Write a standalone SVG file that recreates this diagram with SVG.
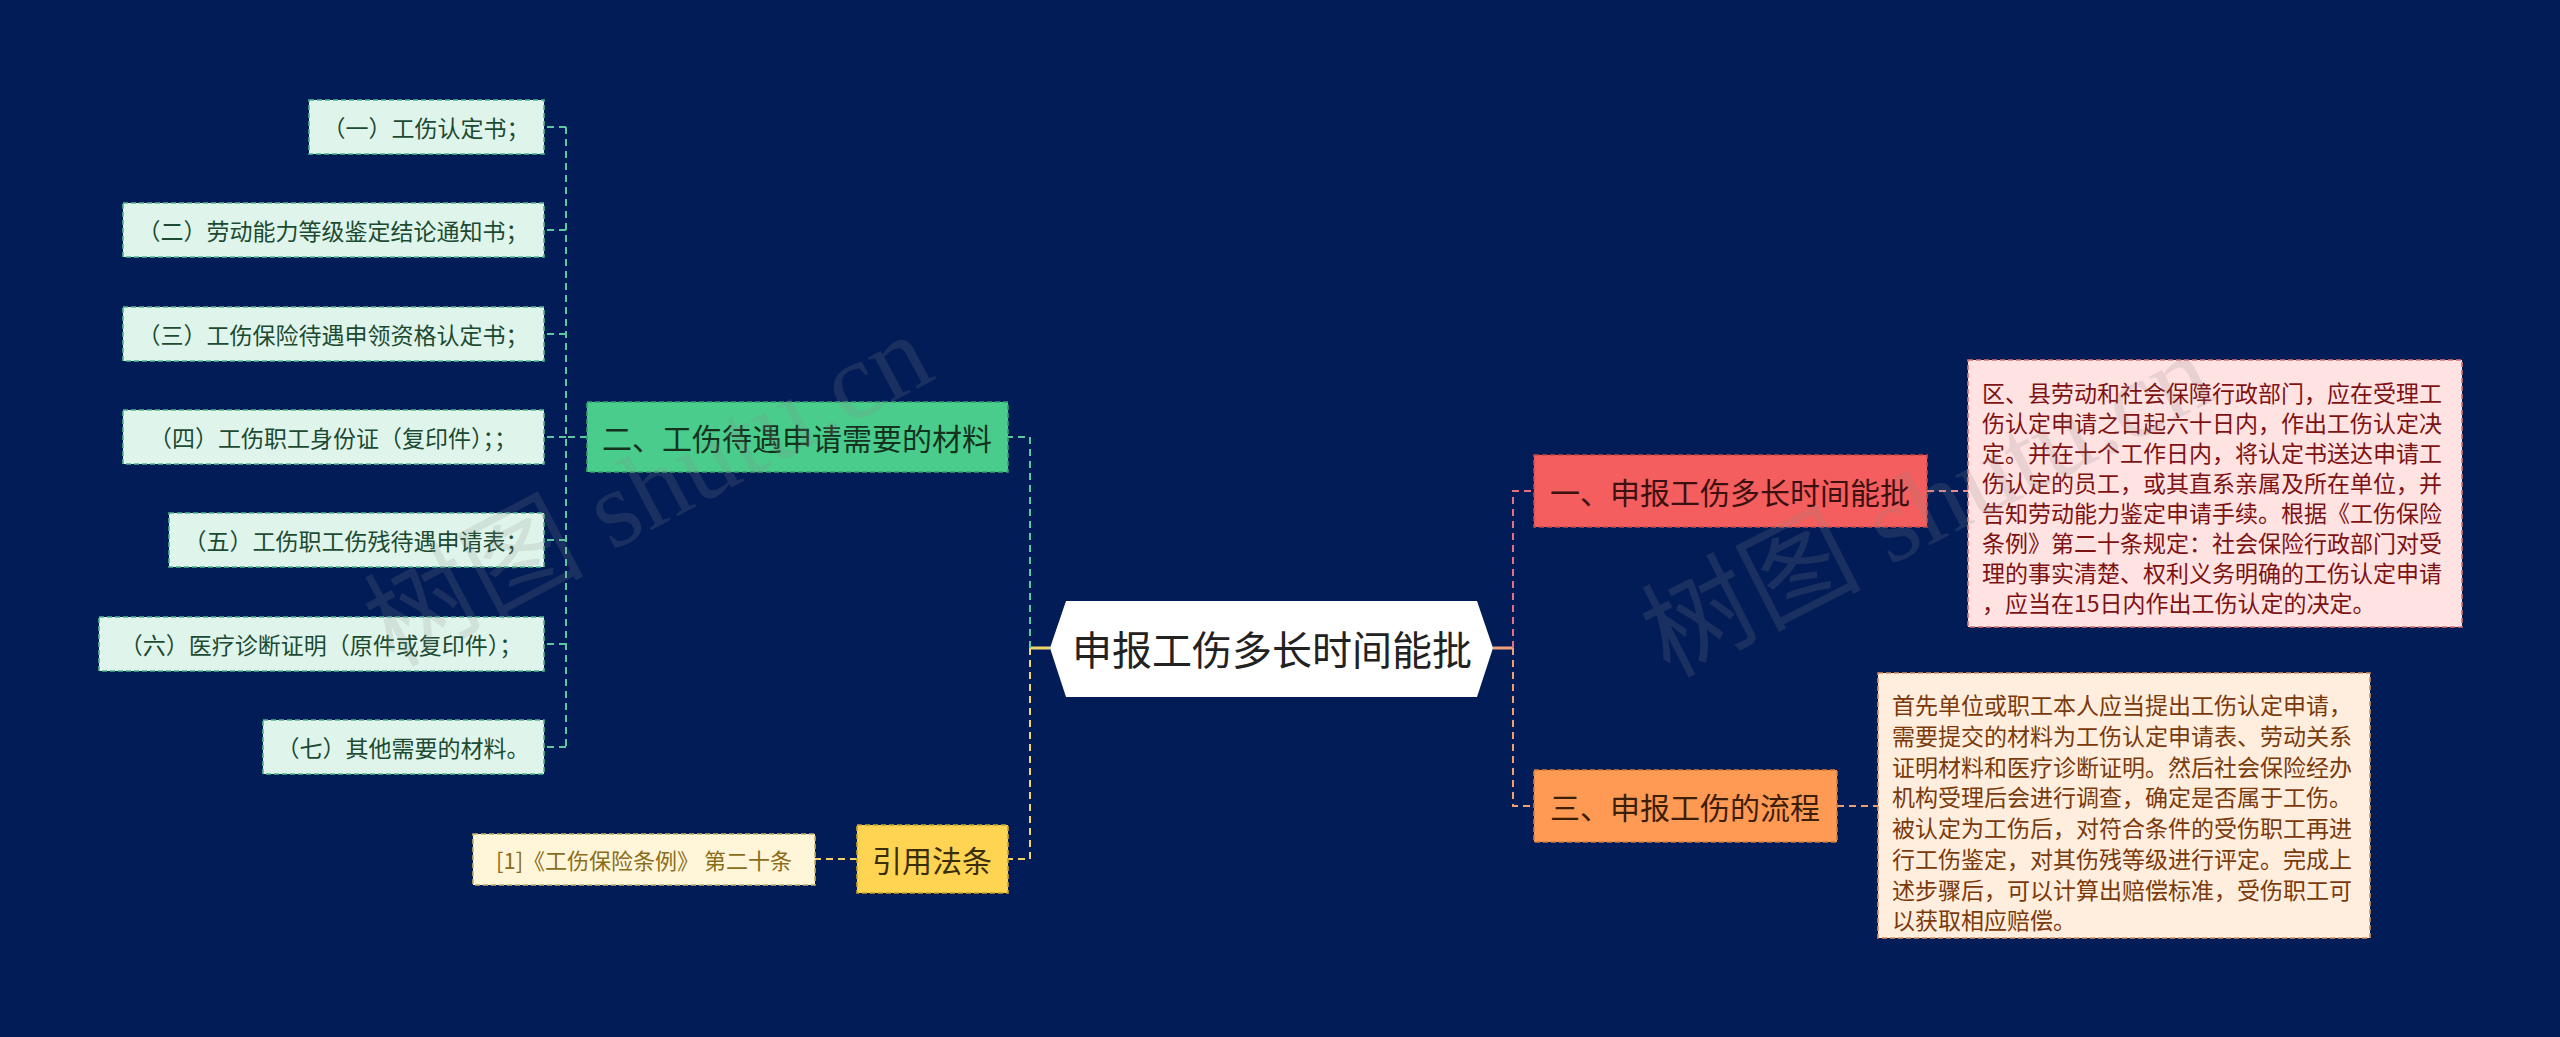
<svg xmlns="http://www.w3.org/2000/svg" width="2560" height="1037" viewBox="0 0 2560 1037">
<style>
text{font-family:"Noto Sans CJK SC","Noto Sans",sans-serif}
.c{text-anchor:middle;dominant-baseline:central}
.l{text-anchor:start;dominant-baseline:central}
.conn{fill:none;stroke-width:2;stroke-dasharray:7 5}
.solid{fill:none;stroke-width:3}
.box{stroke-width:1.6;stroke-dasharray:5 3}
.child rect{fill:#DFF5EB;stroke:#4DB88E}
.child text{font-size:23px;fill:#1C4A32}
.wm{font-family:"Liberation Serif","Noto Sans CJK SC",serif;font-size:110px;fill:#8a8a8a;opacity:0.18;text-anchor:middle;dominant-baseline:central}
</style>
<rect x="0" y="0" width="2560" height="1037" fill="#021C57"/>

<g id="connectors">
  <path class="solid" d="M1493 648 H1513" stroke="#F2A07A"/>
  <path class="conn" d="M1513 648 V491 H1534" stroke="#E5707F"/>
  <path class="conn" d="M1513 648 V806 H1534" stroke="#F2A070"/>
  <path class="conn" d="M1927 491 H1968" stroke="#E88A8A"/>
  <path class="conn" d="M1837 806 H1878" stroke="#E8A070"/>
  <path class="solid" d="M1050 648 H1030" stroke="#F2D56A"/>
  <path class="conn" d="M1030 648 V437 H1008" stroke="#5BC8A0"/>
  <path class="conn" d="M1030 648 V859 H1008" stroke="#F2D56A"/>
  <path class="conn" d="M857 859 H815" stroke="#F2D56A"/>
  <path class="conn" d="M587 437 H566" stroke="#5BC8A0"/>
  <path class="conn" d="M566 127 V747" stroke="#5BC8A0"/>
  <path class="conn" d="M566 127 H545 M566 230 H545 M566 334 H545 M566 437 H545 M566 540 H545 M566 644 H545 M566 747 H545" stroke="#5BC8A0"/>
</g>

<g id="root">
  <polygon points="1050,648 1066,601 1477,601 1493,648 1477,697 1066,697" fill="#FFFFFF"/>
  <text class="c" x="1272" y="648" font-size="40" fill="#222222">申报工伤多长时间能批</text>
</g>

<g id="branch1">
  <rect class="box" x="1534" y="455" width="393" height="72" fill="#F45E5E" stroke="#C94848"/>
  <text class="c" x="1730" y="491" font-size="30" fill="#3D1010">一、申报工伤多长时间能批</text>
</g>
<g id="detail1">
  <rect class="box" x="1968" y="360" width="494" height="267" fill="#FFE2E2" stroke="#D87070"/>
  <g font-size="23" fill="#7E1212">
    <text class="l" x="1982" y="392">区、县劳动和社会保障行政部门，应在受理工</text>
    <text class="l" x="1982" y="422">伤认定申请之日起六十日内，作出工伤认定决</text>
    <text class="l" x="1982" y="452">定。并在十个工作日内，将认定书送达申请工</text>
    <text class="l" x="1982" y="482">伤认定的员工，或其直系亲属及所在单位，并</text>
    <text class="l" x="1982" y="512">告知劳动能力鉴定申请手续。根据《工伤保险</text>
    <text class="l" x="1982" y="542">条例》第二十条规定：社会保险行政部门对受</text>
    <text class="l" x="1982" y="572">理的事实清楚、权利义务明确的工伤认定申请</text>
    <text class="l" x="1982" y="602">，应当在15日内作出工伤认定的决定。</text>
  </g>
</g>

<g id="branch3">
  <rect class="box" x="1534" y="770" width="303" height="72" fill="#FF9A55" stroke="#D47A3A"/>
  <text class="c" x="1685" y="806" font-size="30" fill="#3D1E08">三、申报工伤的流程</text>
</g>
<g id="detail3">
  <rect class="box" x="1878" y="673" width="492" height="265" fill="#FFEEDD" stroke="#D89060"/>
  <g font-size="23" fill="#7A3A0C">
    <text class="l" x="1892" y="704">首先单位或职工本人应当提出工伤认定申请，</text>
    <text class="l" x="1892" y="735">需要提交的材料为工伤认定申请表、劳动关系</text>
    <text class="l" x="1892" y="766">证明材料和医疗诊断证明。然后社会保险经办</text>
    <text class="l" x="1892" y="796">机构受理后会进行调查，确定是否属于工伤。</text>
    <text class="l" x="1892" y="827">被认定为工伤后，对符合条件的受伤职工再进</text>
    <text class="l" x="1892" y="858">行工伤鉴定，对其伤残等级进行评定。完成上</text>
    <text class="l" x="1892" y="889">述步骤后，可以计算出赔偿标准，受伤职工可</text>
    <text class="l" x="1892" y="919">以获取相应赔偿。</text>
  </g>
</g>

<g id="branch2">
  <rect class="box" x="587" y="402" width="421" height="70" fill="#4ACD8C" stroke="#33A06C"/>
  <text class="c" x="797" y="437" font-size="30" fill="#14331F">二、工伤待遇申请需要的材料</text>
</g>
<g id="child1" class="child">
  <rect class="box" x="309" y="100" width="235" height="54"/>
  <text class="c" x="426" y="127">（一）工伤认定书；</text>
</g>
<g id="child2" class="child">
  <rect class="box" x="123" y="203" width="421" height="54"/>
  <text class="c" x="333" y="230">（二）劳动能力等级鉴定结论通知书；</text>
</g>
<g id="child3" class="child">
  <rect class="box" x="123" y="307" width="421" height="54"/>
  <text class="c" x="333" y="334">（三）工伤保险待遇申领资格认定书；</text>
</g>
<g id="child4" class="child">
  <rect class="box" x="123" y="410" width="421" height="54"/>
  <text class="c" x="333" y="437">（四）工伤职工身份证（复印件）；；</text>
</g>
<g id="child5" class="child">
  <rect class="box" x="169" y="513" width="375" height="54"/>
  <text class="c" x="356" y="540">（五）工伤职工伤残待遇申请表；</text>
</g>
<g id="child6" class="child">
  <rect class="box" x="99" y="617" width="445" height="54"/>
  <text class="c" x="321" y="644">（六）医疗诊断证明（原件或复印件）；</text>
</g>
<g id="child7" class="child">
  <rect class="box" x="263" y="720" width="281" height="54"/>
  <text class="c" x="403" y="747">（七）其他需要的材料。</text>
</g>

<g id="law">
  <rect class="box" x="857" y="825" width="151" height="68" fill="#FFD452" stroke="#C9A02A"/>
  <text class="c" x="932" y="859" font-size="30" fill="#3A2E0A">引用法条</text>
</g>
<g id="citation">
  <rect class="box" x="473" y="834" width="342" height="51" fill="#FFF6DA" stroke="#C8B060"/>
  <text class="c" x="644" y="859" font-size="22" fill="#8A6D1A">[1]《工伤保险条例》 第二十条</text>
</g>

<text class="wm" transform="translate(648,490) rotate(-28)">树图 shutu.cn</text>
<text class="wm" transform="translate(1927,505) rotate(-27)">树图 shutu.cn</text>
</svg>
